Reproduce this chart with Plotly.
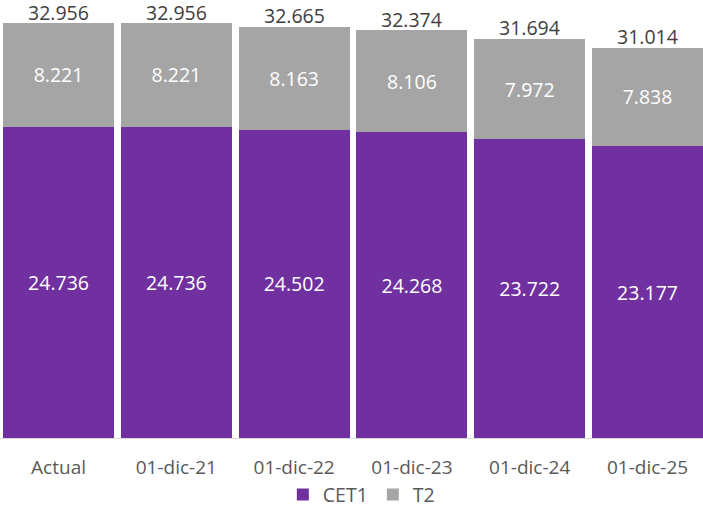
import plotly.graph_objects as go

categories = ["Actual", "01-dic-21", "01-dic-22", "01-dic-23", "01-dic-24", "01-dic-25"]
cet1 = [24736, 24736, 24502, 24268, 23722, 23177]
t2 = [8221, 8221, 8163, 8106, 7972, 7838]
totals = [32956, 32956, 32665, 32374, 31694, 31014]

FONT = "Open Sans"

fig = go.Figure()
fig.add_trace(go.Bar(
    name="CET1", x=categories, y=cet1, marker=dict(color="#7030A0", line=dict(width=0)),
    texttemplate="%{y:,.0f}", textposition="inside", insidetextanchor="middle",
    textfont=dict(color="white", size=19.5, family=FONT), hoverinfo="skip",
))
fig.add_trace(go.Bar(
    name="T2", x=categories, y=t2, marker=dict(color="#A5A5A5", line=dict(width=0)),
    texttemplate="%{y:,.0f}", textposition="inside", insidetextanchor="middle",
    textfont=dict(color="white", size=19.5, family=FONT), hoverinfo="skip",
))

for cat, tot in zip(categories, totals):
    fig.add_annotation(
        x=cat, y=tot, text=f"{tot:,}".replace(",", "."), showarrow=False,
        yanchor="middle", yshift=11,
        font=dict(color="#404040", size=19.5, family=FONT),
    )

fig.update_layout(
    width=703, height=508,
    barmode="stack", bargap=0.058,
    separators=",.",
    margin=dict(l=0, r=0, t=0, b=70, autoexpand=False),
    paper_bgcolor="white", plot_bgcolor="white",
    font=dict(family=FONT, color="#595959", size=19),
    xaxis=dict(showline=True, linecolor="#D9D9D9", linewidth=1, ticks="",
               ticklabelstandoff=12, automargin=False,
               tickfont=dict(size=19, color="#595959"), range=[-0.497, 5.471]),
    yaxis=dict(visible=False, range=[0, 34790], automargin=False),
    legend=dict(orientation="h", x=0.514, xanchor="center", yref="container",
                y=0.026, yanchor="middle",
                font=dict(size=19.5, color="#595959"), traceorder="normal",
                itemwidth=30, tracegroupgap=0),
    showlegend=True,
)

fig.write_html("out.html", config={"displayModeBar": False},
               post_script="document.body.style.margin='0';")
